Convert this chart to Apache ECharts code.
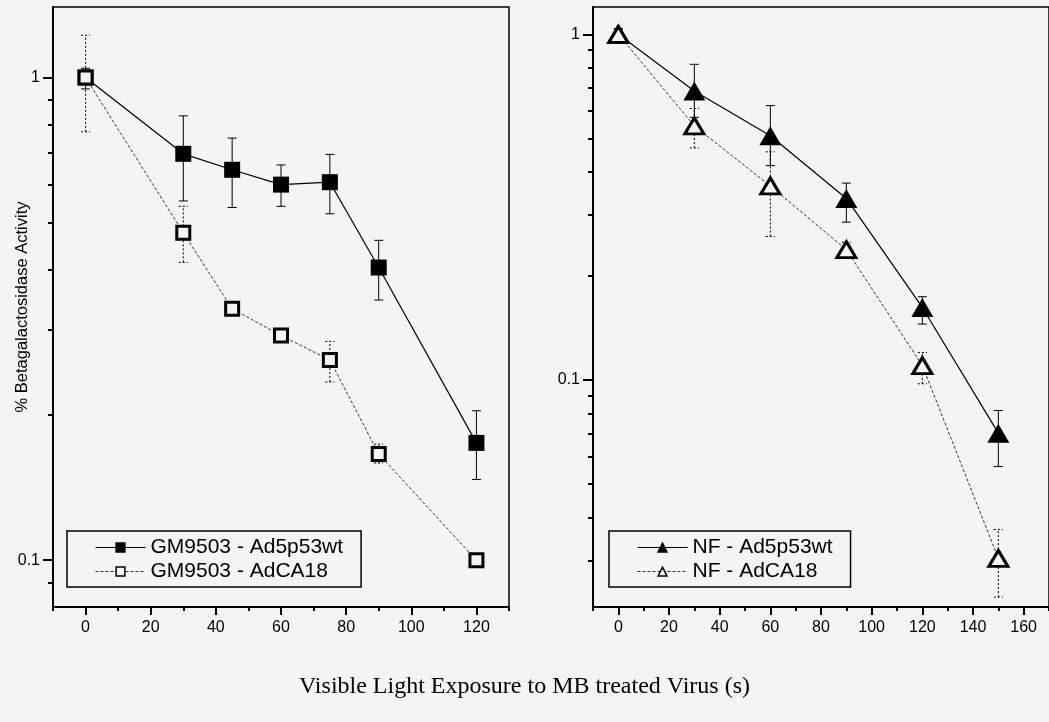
<!DOCTYPE html>
<html>
<head>
<meta charset="utf-8">
<script src="https://cdn.jsdelivr.net/npm/echarts@6/dist/echarts.min.js"></script>
<style>
  html, body { margin: 0; padding: 0; background: #f4f4f4; }
  #chart { width: 1049px; height: 722px; }
</style>
</head>
<body>
<div id="chart"></div>
<script>
// Exposure times (s)
const gmTimes = [0, 30, 45, 60, 75, 90, 120];
const nfTimes = [0, 30, 60, 90, 120, 150];

// GM9503 cells
const gmP53 = [1.0, 0.695, 0.644, 0.600, 0.607, 0.404, 0.175];
const gmP53Low = [0.947, 0.555, 0.538, 0.541, 0.522, 0.346, 0.147];
const gmP53High = [1.045, 0.833, 0.749, 0.659, 0.693, 0.460, 0.204];
const gmCA18 = [1.0, 0.477, 0.332, 0.292, 0.260, 0.166, 0.100];
const gmCA18Low = [0.772, 0.414, 0.326, 0.287, 0.234, 0.159, 0.098];
const gmCA18High = [1.223, 0.541, 0.338, 0.297, 0.284, 0.174, 0.102];

// NF cells
const nfP53 = [1.0, 0.686, 0.509, 0.335, 0.162, 0.0701];
const nfP53Low = [0.952, 0.575, 0.417, 0.286, 0.145, 0.0561];
const nfP53High = [1.04, 0.819, 0.622, 0.371, 0.174, 0.0815];
const nfCA18 = [1.0, 0.543, 0.364, 0.238, 0.110, 0.0304];
const nfCA18Low = [0.96, 0.469, 0.260, 0.226, 0.0974, 0.0235];
const nfCA18High = [1.03, 0.610, 0.457, 0.250, 0.120, 0.0369];

// Axis tick values
const gmMajorX = [0, 20, 40, 60, 80, 100, 120];
const nfMajorX = [0, 20, 40, 60, 80, 100, 120, 140, 160];
const decadeLabels = [0.1, 1];
const gmMinorY = [0.09, 0.2, 0.3, 0.4, 0.5, 0.6, 0.7, 0.8, 0.9];
const nfMinorY = [0.03, 0.04, 0.05, 0.06, 0.07, 0.08, 0.09, 0.2, 0.3, 0.4, 0.5, 0.6, 0.7, 0.8, 0.9];

const names = {
  gmP53: 'GM9503 - Ad5p53wt',
  gmCA18: 'GM9503 - AdCA18',
  nfP53: 'NF - Ad5p53wt',
  nfCA18: 'NF - AdCA18'
};

const BG = '#f4f4f4';
const FONT = 'Liberation Sans, Arial, sans-serif';

function pairs(xs, ys) { return xs.map((x, i) => [x, ys[i]]); }
function triples(xs, lo, hi) { return xs.map((x, i) => [x, lo[i], hi[i]]); }

// Vertical error bar with caps
function errorBar(dash) {
  return function (params, api) {
    const x = api.value(0);
    const lo = api.coord([x, api.value(1)]);
    const hi = api.coord([x, api.value(2)]);
    const hw = 4.5;
    const style = { stroke: '#000', lineWidth: 1, lineDash: dash, fill: null };
    return {
      type: 'group',
      children: [
        { type: 'line', shape: { x1: lo[0], y1: lo[1], x2: hi[0], y2: hi[1] }, style: style },
        { type: 'line', shape: { x1: lo[0] - hw, y1: lo[1], x2: lo[0] + hw, y2: lo[1] }, style: style },
        { type: 'line', shape: { x1: hi[0] - hw, y1: hi[1], x2: hi[0] + hw, y2: hi[1] }, style: style }
      ]
    };
  };
}

function xMajor(grid, min, max, labels) {
  return {
    type: 'value', gridIndex: grid, position: 'bottom', min: min, max: max,
    axisLine: { onZero: false, lineStyle: { color: '#000', width: 2 } },
    axisTick: { customValues: labels, length: 8, lineStyle: { color: '#000', width: 2 } },
    axisLabel: { customValues: labels, color: '#000', fontSize: 16, fontFamily: FONT, margin: 13 },
    splitLine: { show: false }
  };
}
function xMinor(grid, min, max) {
  return {
    type: 'value', gridIndex: grid, position: 'bottom', min: min, max: max, interval: 10,
    axisLine: { show: false, onZero: false },
    axisTick: { length: 4, lineStyle: { color: '#000', width: 2 } },
    axisLabel: { show: false },
    splitLine: { show: false }
  };
}
function yMajor(grid, min, max, withName) {
  return {
    type: 'log', logBase: 10, gridIndex: grid, position: 'left', min: min, max: max,
    name: withName ? '% Betagalactosidase Activity' : '',
    nameLocation: 'middle', nameGap: 22, nameRotate: 90, nameMoveOverlap: false,
    nameTextStyle: { color: '#000', fontSize: 16.5, fontFamily: FONT },
    axisLine: { onZero: false, lineStyle: { color: '#000', width: 2 } },
    axisTick: { customValues: decadeLabels, length: 10, lineStyle: { color: '#000', width: 2 } },
    axisLabel: { customValues: decadeLabels, color: '#000', fontSize: 16, fontFamily: FONT, margin: 13 },
    splitLine: { show: false }
  };
}
function yMinor(grid, min, max, ticks) {
  return {
    type: 'log', logBase: 10, gridIndex: grid, position: 'left', min: min, max: max,
    axisLine: { show: false, onZero: false },
    axisTick: { customValues: ticks, length: 5, lineStyle: { color: '#000', width: 2 } },
    axisLabel: { show: false },
    splitLine: { show: false }
  };
}

function lineSeries(name, xi, yi, data, opts) {
  return Object.assign({
    type: 'line', name: name, xAxisIndex: xi, yAxisIndex: yi, data: data,
    z: 3, animation: false
  }, opts);
}

function legendBox(names, left) {
  return {
    data: names,
    orient: 'vertical', left: left, top: 531,
    padding: [6, 18, 5, 28], itemGap: 3,
    itemWidth: 50, itemHeight: 11,
    borderColor: '#000', borderWidth: 1.5, borderRadius: 0,
    itemStyle: { borderWidth: 1.5 },
    lineStyle: { width: 1 },
    textStyle: { color: '#000', fontSize: 21, fontFamily: FONT }
  };
}

const solidLine = { color: '#000', width: 1.2 };
const dottedLine = { color: '#333', width: 1, type: [3, 2] };

const option = {
  backgroundColor: BG,
  animation: false,
  title: {
    text: 'Visible Light Exposure to MB treated Virus (s)',
    left: 'center', top: 670,
    textStyle: { color: '#000', fontSize: 24, fontWeight: 'normal', fontFamily: 'Liberation Serif, Times New Roman, serif' }
  },
  grid: [
    { left: 53, top: 7, width: 456, height: 600, show: true, borderColor: '#000', borderWidth: 1.5, backgroundColor: 'transparent' },
    { left: 593, top: 7, width: 460, height: 600, show: true, borderColor: '#000', borderWidth: 1.5, backgroundColor: 'transparent' }
  ],
  xAxis: [
    xMajor(0, -10, 130, gmMajorX),
    xMinor(0, -10, 130),
    xMajor(1, -10, 170, nfMajorX),
    xMinor(1, -10, 170)
  ],
  yAxis: [
    yMajor(0, 0.08, 1.4, true),
    yMinor(0, 0.08, 1.4, gmMinorY),
    yMajor(1, 0.022, 1.2, false),
    yMinor(1, 0.022, 1.2, nfMinorY)
  ],
  legend: [
    legendBox([names.gmP53, names.gmCA18], 67),
    legendBox([names.nfP53, names.nfCA18], 609)
  ],
  series: [
    // error bars first, drawn beneath the markers
    { type: 'custom', name: 'gmP53-err', xAxisIndex: 0, yAxisIndex: 0, z: 2,
      data: triples(gmTimes, gmP53Low, gmP53High), encode: { x: 0, y: [1, 2] }, renderItem: errorBar(null) },
    { type: 'custom', name: 'gmCA18-err', xAxisIndex: 0, yAxisIndex: 0, z: 2,
      data: triples(gmTimes, gmCA18Low, gmCA18High), encode: { x: 0, y: [1, 2] }, renderItem: errorBar([2, 2]) },
    { type: 'custom', name: 'nfP53-err', xAxisIndex: 2, yAxisIndex: 2, z: 2,
      data: triples(nfTimes, nfP53Low, nfP53High), encode: { x: 0, y: [1, 2] }, renderItem: errorBar(null) },
    { type: 'custom', name: 'nfCA18-err', xAxisIndex: 2, yAxisIndex: 2, z: 2,
      data: triples(nfTimes, nfCA18Low, nfCA18High), encode: { x: 0, y: [1, 2] }, renderItem: errorBar([2, 2]) },

    lineSeries(names.gmP53, 0, 0, pairs(gmTimes, gmP53), {
      symbol: 'rect', symbolSize: 16,
      lineStyle: solidLine,
      itemStyle: { color: '#000', borderColor: '#000', borderWidth: 0 }
    }),
    lineSeries(names.gmCA18, 0, 0, pairs(gmTimes, gmCA18), {
      symbol: 'rect', symbolSize: 13,
      lineStyle: dottedLine,
      itemStyle: { color: BG, borderColor: '#000', borderWidth: 3 }
    }),
    lineSeries(names.nfP53, 2, 2, pairs(nfTimes, nfP53), {
      symbol: 'triangle', symbolSize: [22, 19],
      lineStyle: solidLine,
      itemStyle: { color: '#000', borderColor: '#000', borderWidth: 0 }
    }),
    lineSeries(names.nfCA18, 2, 2, pairs(nfTimes, nfCA18), {
      symbol: 'triangle', symbolSize: [19, 16],
      lineStyle: dottedLine,
      itemStyle: { color: BG, borderColor: '#000', borderWidth: 3 }
    })
  ]
};

const chart = echarts.init(document.getElementById('chart'), null, { renderer: 'canvas' });
chart.setOption(option);
</script>
</body>
</html>
